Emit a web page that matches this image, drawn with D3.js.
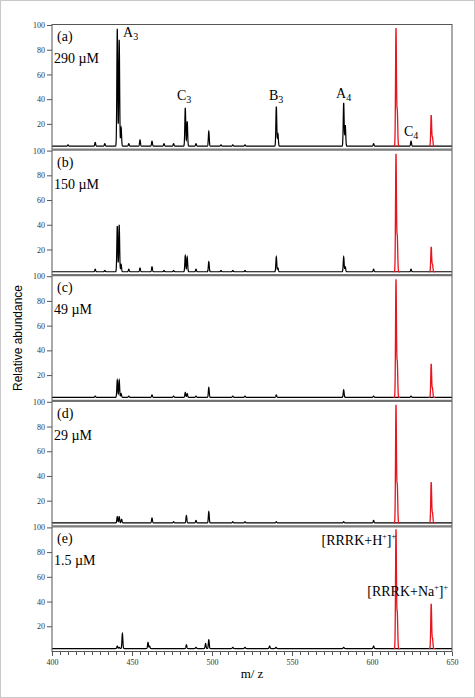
<!DOCTYPE html>
<html><head><meta charset="utf-8">
<script src="https://cdn.jsdelivr.net/npm/d3@7"></script>
<style>body{margin:0;background:#fff}svg{display:block}</style>
</head><body>
<script>
const panelLabels = ["(a)", "(b)", "(c)", "(d)", "(e)"];
const concentrations = ["290 \u00b5M", "150 \u00b5M", "49 \u00b5M", "29 \u00b5M", "1.5 \u00b5M"];
const yTicks = [20, 40, 60, 80, 100];
const xTicks = [400, 450, 500, 550, 600, 650];
// peaks: [m/z, height]
const peaksA = [[410,3],[427,5],[433,4],[440.8,97],[442,88],[443.2,17],[448,4],[455,7],[462.5,6],[470,4],[476,4],[483.3,33],[484.5,22],[490,4],[498,14],[505.6,3],[513,3],[520.6,3],[540.2,34],[541.2,12],[582.3,37],[583.3,19],[601,4],[624.4,6]];
const peaksB = [[427,4],[433,3],[440.8,39],[442,40],[443.2,8],[448,4],[455,5],[462.5,6],[470,3],[476,3],[483.3,15],[484.5,14],[490,4],[498,10],[505.6,3],[513,3],[520.6,3],[540.2,14],[541.2,5],[582.3,14],[583.3,6],[601,4],[624.4,4]];
const peaksC = [[427,3],[440.8,16],[442,16],[443.2,5],[448,3],[462.5,4],[476,3],[483.3,6],[484.5,5],[490,3],[498,10],[513,3],[520.6,3],[540.2,4],[582.3,8],[601,3],[624.4,3]];
const peaksD = [[440.8,7],[442,7],[443.5,5],[462.5,6],[476,3],[484,8],[490,4],[498,11],[513,3],[520.6,3],[540.2,3],[582.3,3],[601,4]];
const peaksE = [[440.8,4],[442,3],[444,14],[460,7],[461,4],[484,5],[490,3],[496,6],[498,9],[513,3],[520.6,3],[536,4],[540,3],[582.3,3],[601,4]];
const redA = [[615,97],[615.8,30],[637,27],[637.8,9]];
const redB = [[615,97],[615.8,30],[637,22],[637.8,8]];
const redC = [[615,97],[615.8,30],[637,29],[637.8,9]];
const redD = [[615,97],[615.8,32],[637,35],[637.8,10]];
const redE = [[615,98],[615.8,30],[637,38],[637.8,10]];
const blackPeaks = [peaksA, peaksB, peaksC, peaksD, peaksE];
const redPeaks = [redA, redB, redC, redD, redE];
const baseline = 2;

const W = 475, H = 698;
const mLeft = 52, mRight = 452, mTop = 24, mBottom = 652;
const ph = (mBottom - mTop) / 5;
const svg = d3.select("body").append("svg").attr("width", W).attr("height", H);
svg.append("rect").attr("x",0.5).attr("y",0.5).attr("width",W-1).attr("height",H-1).attr("fill","#fff").attr("stroke","#c8c8c8");
const x = d3.scaleLinear().domain([400, 650]).range([mLeft, mRight]);

function spectrum(peaks, lo, hi) {
  const pts = [];
  for (let m = lo; m <= hi + 1e-9; m += 0.05) {
    let v = baseline;
    for (const [c, h] of peaks) {
      const s = 0.28;
      v += (h - baseline) * Math.exp(-((m - c) ** 2) / (2 * s * s));
    }
    pts.push([m, Math.min(v, 100)]);
  }
  return pts;
}

for (let i = 0; i < 5; i++) {
  const y0 = mTop + i * ph;
  const y = d3.scaleLinear().domain([0, 100]).range([y0 + ph - 1, y0 + 1]);
  const g = svg.append("g");
  const line = d3.line().x(d => x(d[0])).y(d => y(d[1]));
  g.append("path").attr("d", line(spectrum(blackPeaks[i], 400, 650))).attr("fill","none").attr("stroke","#000").attr("stroke-width",1.2);
  g.append("path").attr("d", line(spectrum(redPeaks[i], 613.5, 617.5))).attr("fill","none").attr("stroke","#e8141e").attr("stroke-width",1.3);
  g.append("path").attr("d", line(spectrum(redPeaks[i], 635.5, 639.5))).attr("fill","none").attr("stroke","#e8141e").attr("stroke-width",1.3);
  g.append("rect").attr("x",mLeft).attr("y",y0 + 0.5).attr("width",mRight-mLeft).attr("height",ph - 1).attr("fill","none").attr("stroke","#555").attr("stroke-width",1);
  const ya = g.append("g").attr("transform",`translate(${mLeft},0)`).call(d3.axisLeft(y).tickValues(yTicks).tickSize(5).tickPadding(2));
  ya.select(".domain").remove();
  ya.selectAll("text").attr("font-family","Liberation Serif").attr("font-size",8).attr("fill","#333");
  ya.selectAll("line").attr("stroke","#555");
  g.append("text").attr("x",57).attr("y",y0+17).text(panelLabels[i]).attr("font-family","Liberation Serif").attr("font-size",14);
  g.append("text").attr("x",54).attr("y",y0+39).text(concentrations[i]).attr("font-family","Liberation Serif").attr("font-size",14);
}

const xa = svg.append("g").attr("transform",`translate(0,${mBottom})`).call(d3.axisBottom(x).tickValues(xTicks).tickSize(4).tickPadding(3));
xa.select(".domain").remove();
xa.selectAll("text").attr("font-family","Liberation Serif").attr("font-size",8).attr("fill","#333");
xa.selectAll("line").attr("stroke","#555");
svg.append("g").attr("transform",`translate(0,${mBottom})`).call(d3.axisBottom(x).ticks(50).tickSize(3).tickFormat("")).call(s=>{s.select(".domain").remove();s.selectAll("line").attr("stroke","#555");});

svg.append("text").attr("x",(mLeft+mRight)/2).attr("y",678).attr("text-anchor","middle").text("m/ z").attr("font-family","Liberation Serif").attr("font-size",13);
svg.append("text").attr("transform",`translate(22,${(mTop+mBottom)/2}) rotate(-90)`).attr("text-anchor","middle").text("Relative abundance").attr("font-family","Liberation Sans").attr("font-size",12);

const serif = "Liberation Serif";
function ann(txt, sub, xx, yy) {
  const t = svg.append("text").attr("x",xx).attr("y",yy).attr("font-family",serif).attr("font-size",14);
  t.append("tspan").text(txt);
  t.append("tspan").text(sub).attr("font-size",10).attr("dy",3);
}
ann("A","3",123,37);
ann("C","3",177,100);
ann("B","3",269,100);
ann("A","4",336,98);
ann("C","4",404,136);
function ion(label, xx, yy) {
  const t = svg.append("text").attr("x",xx).attr("y",yy).attr("font-family",serif).attr("font-size",14).attr("text-anchor","end");
  t.append("tspan").text(label);
  t.append("tspan").text("+").attr("font-size",8).attr("dy",-6);
  t.append("tspan").text("]").attr("dy",6);
  t.append("tspan").text("+").attr("font-size",8).attr("dy",-6);
}
ion("[RRRK+H", 396, 545);
ion("[RRRK+Na", 448, 596);
</script>
</body></html>
